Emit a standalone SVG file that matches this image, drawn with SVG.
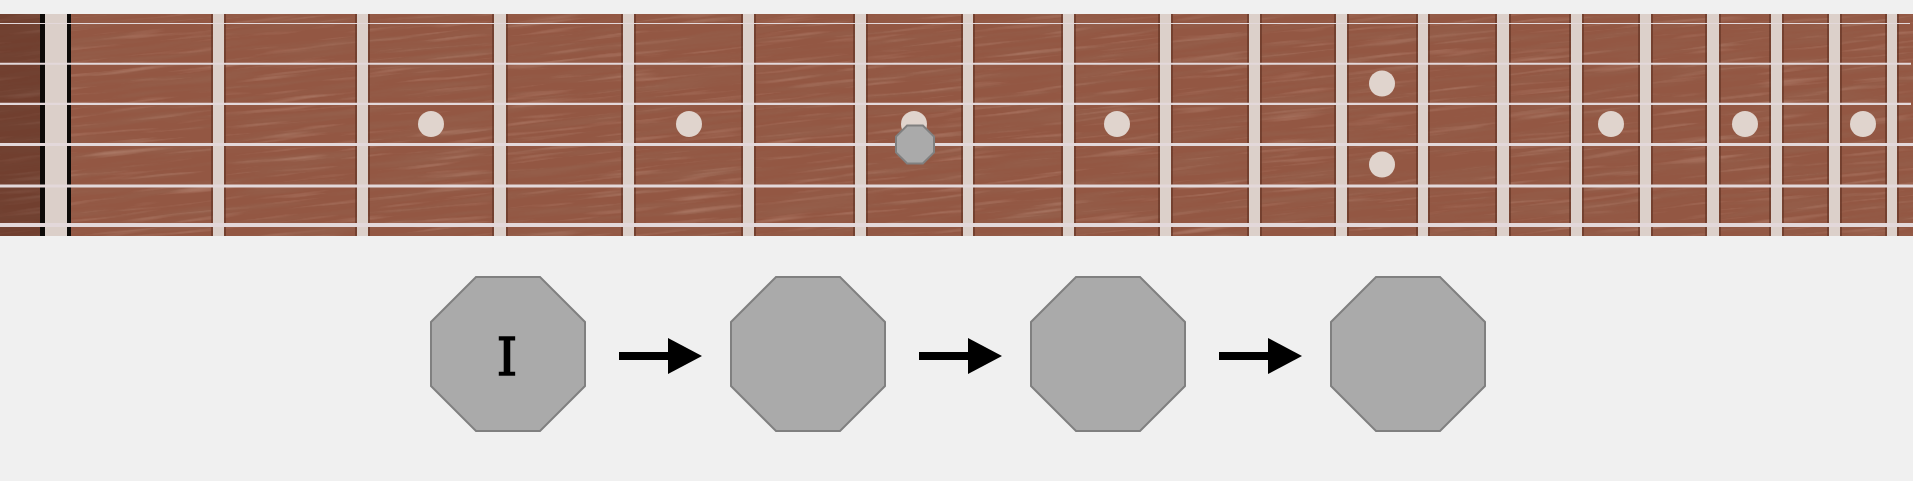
<svg xmlns="http://www.w3.org/2000/svg" width="1913" height="481" viewBox="0 0 1913 481">
  <defs>
    <style>
      .fret-shadow { fill: #5f3021; opacity: 0.6; }
      .fret { fill: #dcd0ca; }
      .string { stroke: #e3d8da; }
      .dot { fill: #e0d4cd; }
      .oct { fill: #aaaaaa; stroke: #808080; stroke-width: 2; }
      .conn { stroke: #000000; stroke-width: 8; fill: none; marker-end: url(#arrowhead); }
      .label { font-family: "DejaVu Serif", "Liberation Serif", serif; font-size: 53px; fill: #000000; stroke: #000000; stroke-width: 1.3; text-anchor: middle; }
    </style>
    <filter id="grain" x="0" y="0" width="100%" height="100%" filterUnits="objectBoundingBox">
      <feTurbulence type="fractalNoise" baseFrequency="0.008 0.13" numOctaves="3" seed="7"/>
      <feColorMatrix type="matrix" values="0 0 0 0 0.30  0 0 0 0 0.14  0 0 0 0 0.09  1.0 0 0 0 -0.42"/>
    </filter>
    <filter id="grainLight" x="0" y="0" width="100%" height="100%" filterUnits="objectBoundingBox">
      <feTurbulence type="fractalNoise" baseFrequency="0.012 0.22" numOctaves="2" seed="21"/>
      <feColorMatrix type="matrix" values="0 0 0 0 0.70  0 0 0 0 0.45  0 0 0 0 0.36  0.9 0 0 0 -0.5"/>
    </filter>
    <clipPath id="boardClip">
      <rect x="0" y="14" width="1913" height="222"/>
    </clipPath>
    <marker id="arrowhead" markerUnits="userSpaceOnUse" markerWidth="34" markerHeight="36" viewBox="0 0 34 36" refX="0" refY="18" orient="auto">
      <path d="M0,0 L34,18 L0,36 Z" fill="#000000"/>
    </marker>
  </defs>

  <rect x="0" y="0" width="1913" height="481" fill="#f0f0f0"/>

  <g id="fretboard">
    <g clip-path="url(#boardClip)">
      <rect x="0" y="14" width="1913" height="222" fill="#935743"/>
      <g transform="skewY(-6)">
        <rect x="0" y="-40" width="1913" height="480" filter="url(#grain)"/>
        <rect x="0" y="-40" width="1913" height="480" filter="url(#grainLight)"/>
      </g>
      <rect x="0" y="14" width="42" height="222" fill="#4a2418" opacity="0.45"/>
    </g>
    <!-- nut -->
    <rect x="40" y="14" width="31" height="222" fill="#0d0a08"/>
    <rect x="45" y="14" width="22" height="222" fill="#dbcfc9"/>
    <!-- frets -->
    <g id="frets">
      <rect class="fret-shadow" x="211" y="14" width="15" height="222"/><rect class="fret" x="213" y="14" width="11" height="222"/>
      <rect class="fret-shadow" x="355" y="14" width="15" height="222"/><rect class="fret" x="357" y="14" width="11" height="222"/>
      <rect class="fret-shadow" x="492" y="14" width="16" height="222"/><rect class="fret" x="494" y="14" width="12" height="222"/>
      <rect class="fret-shadow" x="621" y="14" width="15" height="222"/><rect class="fret" x="623" y="14" width="11" height="222"/>
      <rect class="fret-shadow" x="741" y="14" width="15" height="222"/><rect class="fret" x="743" y="14" width="11" height="222"/>
      <rect class="fret-shadow" x="853" y="14" width="15" height="222"/><rect class="fret" x="855" y="14" width="11" height="222"/>
      <rect class="fret-shadow" x="961" y="14" width="14" height="222"/><rect class="fret" x="963" y="14" width="10" height="222"/>
      <rect class="fret-shadow" x="1061" y="14" width="15" height="222"/><rect class="fret" x="1063" y="14" width="11" height="222"/>
      <rect class="fret-shadow" x="1158" y="14" width="15" height="222"/><rect class="fret" x="1160" y="14" width="11" height="222"/>
      <rect class="fret-shadow" x="1247" y="14" width="15" height="222"/><rect class="fret" x="1249" y="14" width="11" height="222"/>
      <rect class="fret-shadow" x="1334" y="14" width="15" height="222"/><rect class="fret" x="1336" y="14" width="11" height="222"/>
      <rect class="fret-shadow" x="1416" y="14" width="14" height="222"/><rect class="fret" x="1418" y="14" width="10" height="222"/>
      <rect class="fret-shadow" x="1495" y="14" width="16" height="222"/><rect class="fret" x="1497" y="14" width="12" height="222"/>
      <rect class="fret-shadow" x="1569" y="14" width="15" height="222"/><rect class="fret" x="1571" y="14" width="11" height="222"/>
      <rect class="fret-shadow" x="1638" y="14" width="15" height="222"/><rect class="fret" x="1640" y="14" width="11" height="222"/>
      <rect class="fret-shadow" x="1705" y="14" width="16" height="222"/><rect class="fret" x="1707" y="14" width="12" height="222"/>
      <rect class="fret-shadow" x="1769" y="14" width="15" height="222"/><rect class="fret" x="1771" y="14" width="11" height="222"/>
      <rect class="fret-shadow" x="1827" y="14" width="15" height="222"/><rect class="fret" x="1829" y="14" width="11" height="222"/>
      <rect class="fret-shadow" x="1885" y="14" width="14" height="222"/><rect class="fret" x="1887" y="14" width="10" height="222"/>
    </g>
    <!-- inlay dots -->
    <g id="inlays">
      <circle class="dot" cx="431" cy="124" r="13"/>
      <circle class="dot" cx="689" cy="124" r="13"/>
      <circle class="dot" cx="914" cy="124" r="13"/>
      <circle class="dot" cx="1117" cy="124" r="13"/>
      <circle class="dot" cx="1382" cy="83.5" r="13"/>
      <circle class="dot" cx="1382" cy="164.5" r="13"/>
      <circle class="dot" cx="1611" cy="124" r="13"/>
      <circle class="dot" cx="1745" cy="124" r="13"/>
      <circle class="dot" cx="1863" cy="124" r="13"/>
    </g>
    <!-- strings -->
    <g id="strings">
      <line class="string" x1="0" y1="23.5" x2="1910" y2="23.5" stroke-width="1.2"/>
      <line class="string" x1="0" y1="63.7" x2="1911" y2="63.7" stroke-width="2"/>
      <line class="string" x1="0" y1="103.8" x2="1911" y2="103.8" stroke-width="2.2"/>
      <line class="string" x1="0" y1="144.5" x2="1913" y2="144.5" stroke-width="3"/>
      <line class="string" x1="0" y1="186" x2="1913" y2="186" stroke-width="3.2"/>
      <line class="string" x1="0" y1="225" x2="1913" y2="225" stroke-width="4"/>
    </g>
  </g>

  <g id="marker-note">
    <polygon class="oct" stroke-width="1.5" points="907.1,125.5 922.9,125.5 934,136.6 934,152.4 922.9,163.5 907.1,163.5 896,152.4 896,136.6"/>
  </g>

  <g id="connectors">
    <line class="conn" x1="619" y1="356" x2="668" y2="356"/>
    <line class="conn" x1="919" y1="356" x2="968" y2="356"/>
    <line class="conn" x1="1219" y1="356" x2="1268" y2="356"/>
  </g>

  <g id="node-1">
    <polygon class="oct" points="476,277 540,277 585,322 585,386 540,431 476,431 431,386 431,322"/>
    <text class="label" x="507" y="375">I</text>
  </g>
  <g id="node-2">
    <polygon class="oct" points="776,277 840,277 885,322 885,386 840,431 776,431 731,386 731,322"/>
  </g>
  <g id="node-3">
    <polygon class="oct" points="1076,277 1140,277 1185,322 1185,386 1140,431 1076,431 1031,386 1031,322"/>
  </g>
  <g id="node-4">
    <polygon class="oct" points="1376,277 1440,277 1485,322 1485,386 1440,431 1376,431 1331,386 1331,322"/>
  </g>
</svg>
